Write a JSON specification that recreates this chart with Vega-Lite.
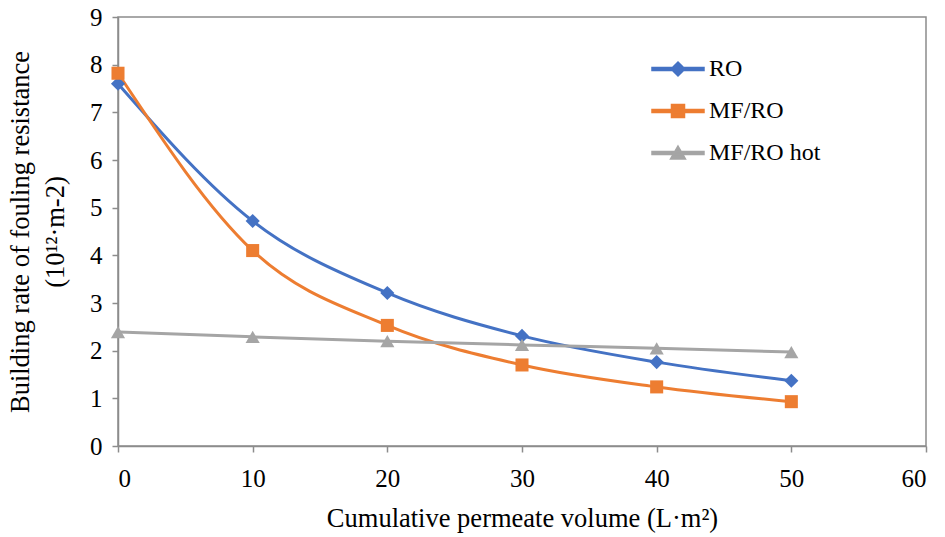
{
  "$schema": "https://vega.github.io/schema/vega-lite/v6.json",
  "width": 808,
  "height": 429,
  "autosize": {"type": "none"},
  "padding": {"left": 118, "top": 17, "right": 19, "bottom": 91},
  "background": "white",
  "config": {
    "font": "serif",
    "view": {"stroke": "#8c8c8c", "strokeWidth": 1.5},
    "legend": {"padding": 0},
    "axis": {
      "grid": false,
      "domainColor": "#8c8c8c",
      "domainWidth": 1.5,
      "tickColor": "#8c8c8c",
      "tickWidth": 1.5,
      "tickSize": 6,
      "labelFont": "serif",
      "labelFontSize": 25,
      "labelColor": "#000000",
      "titleFont": "serif",
      "titleFontSize": 26.5,
      "titleFontWeight": "normal",
      "titleColor": "#000000"
    }
  },
  "data": {
    "values": [
      {"volume": 0, "rate": 7.6, "series": "RO"},
      {"volume": 10, "rate": 4.72, "series": "RO"},
      {"volume": 20, "rate": 3.21, "series": "RO"},
      {"volume": 30, "rate": 2.31, "series": "RO"},
      {"volume": 40, "rate": 1.76, "series": "RO"},
      {"volume": 50, "rate": 1.37, "series": "RO"},
      {"volume": 0, "rate": 7.82, "series": "MF/RO"},
      {"volume": 10, "rate": 4.1, "series": "MF/RO"},
      {"volume": 20, "rate": 2.53, "series": "MF/RO"},
      {"volume": 30, "rate": 1.7, "series": "MF/RO"},
      {"volume": 40, "rate": 1.24, "series": "MF/RO"},
      {"volume": 50, "rate": 0.93, "series": "MF/RO"},
      {"volume": 0, "rate": 2.39, "series": "MF/RO hot"},
      {"volume": 10, "rate": 2.29, "series": "MF/RO hot"},
      {"volume": 20, "rate": 2.2, "series": "MF/RO hot"},
      {"volume": 30, "rate": 2.12, "series": "MF/RO hot"},
      {"volume": 40, "rate": 2.05, "series": "MF/RO hot"},
      {"volume": 50, "rate": 1.97, "series": "MF/RO hot"}
    ]
  },
  "encoding": {
    "x": {
      "field": "volume",
      "type": "quantitative",
      "scale": {"domain": [0, 60], "nice": false},
      "axis": {
        "values": [0, 10, 20, 30, 40, 50, 60],
        "labelPadding": 14,
        "title": "Cumulative permeate volume (L·m²)",
        "titlePadding": 14
      }
    },
    "y": {
      "field": "rate",
      "type": "quantitative",
      "scale": {"domain": [0, 9], "nice": false},
      "axis": {
        "values": [0, 1, 2, 3, 4, 5, 6, 7, 8, 9],
        "labelPadding": 10,
        "title": ["Building rate of fouling resistance", "(10¹²·m-2)"],
        "titleLineHeight": 35,
        "titlePadding": 20
      }
    },
    "color": {
      "field": "series",
      "type": "nominal",
      "scale": {
        "domain": ["RO", "MF/RO", "MF/RO hot"],
        "range": ["#4472C4", "#ED7D31", "#A5A5A5"]
      },
      "legend": {
        "orient": "none",
        "legendX": 548,
        "legendY": 40,
        "title": null,
        "labelFont": "serif",
        "labelFontSize": 24,
        "labelColor": "#000000",
        "labelOffset": 19,
        "symbolSize": 196,
        "symbolOpacity": 1,
        "rowPadding": 18
      }
    }
  },
  "layer": [
    {
      "mark": {"type": "line", "interpolate": "monotone", "strokeWidth": 3}
    },
    {
      "transform": [{"filter": "datum.series === 'RO'"}],
      "mark": {"type": "point", "filled": true, "opacity": 1, "size": 200, "shape": "diamond"}
    },
    {
      "transform": [{"filter": "datum.series === 'MF/RO'"}],
      "mark": {"type": "point", "filled": true, "opacity": 1, "size": 170, "shape": "square"}
    },
    {
      "transform": [{"filter": "datum.series === 'MF/RO hot'"}],
      "mark": {"type": "point", "filled": true, "opacity": 1, "size": 200, "shape": "triangle-up"}
    },
    {
      "transform": [{"filter": "false"}],
      "mark": {"type": "point", "filled": true, "opacity": 1},
      "encoding": {
        "shape": {
          "field": "series",
          "type": "nominal",
          "scale": {
            "domain": ["RO", "MF/RO", "MF/RO hot"],
            "range": [
              "M-3.714,-0.214H3.714V0.214H-3.714ZM0,-1L1,0L0,1L-1,0Z",
              "M-3.714,-0.214H3.714V0.214H-3.714ZM-0.93,-0.93H0.93V0.93H-0.93Z",
              "M-3.714,-0.214H3.714V0.214H-3.714ZM0,-1L1.07,0.86H-1.07Z"
            ]
          },
          "legend": {
            "orient": "none",
            "legendX": 548,
            "legendY": 40,
            "title": null,
            "labelFont": "serif",
            "labelFontSize": 24,
            "labelColor": "#000000",
            "labelOffset": 19,
            "symbolSize": 196,
            "symbolOpacity": 1,
            "rowPadding": 18
          }
        }
      }
    }
  ]
}
